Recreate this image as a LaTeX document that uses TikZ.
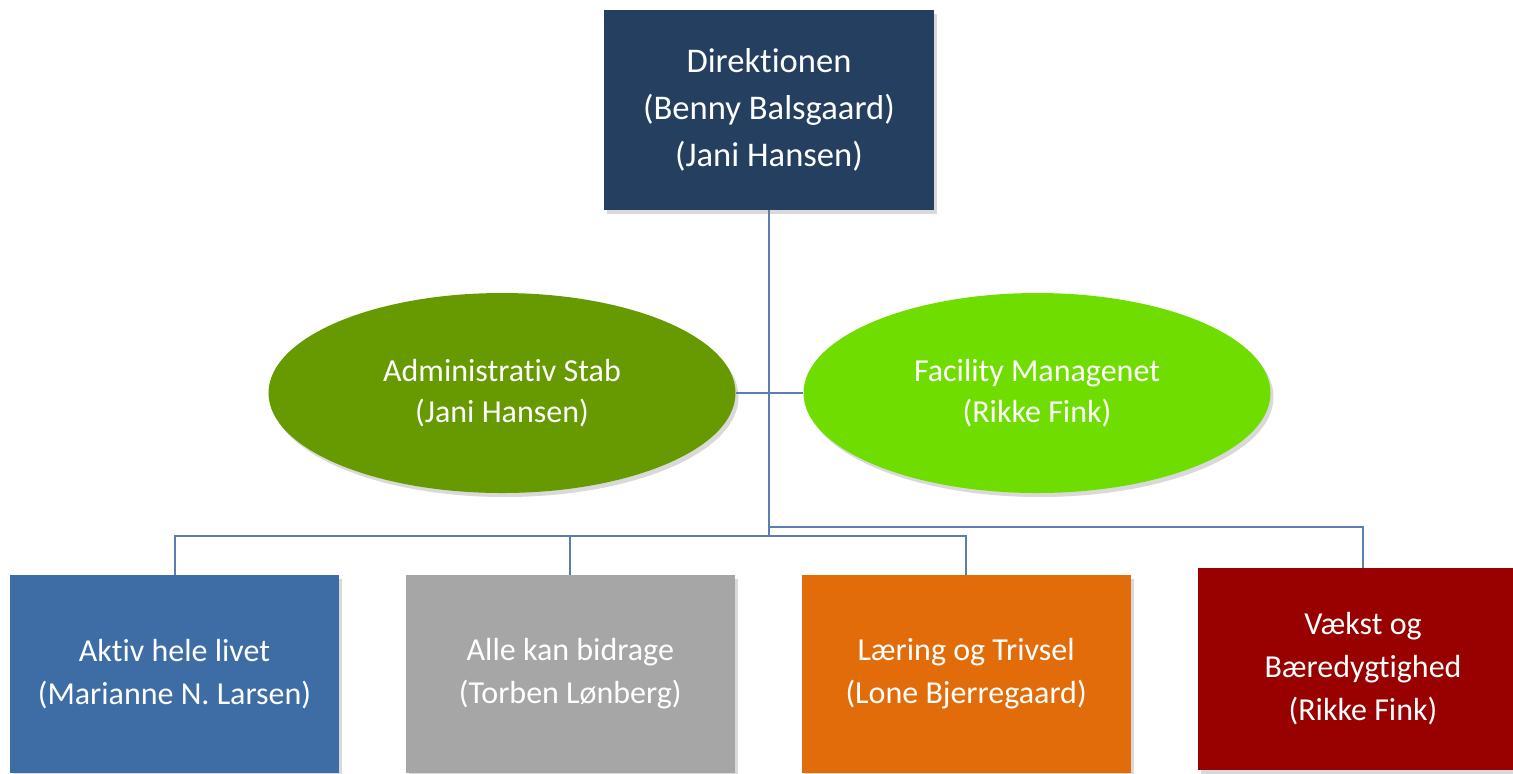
\documentclass[tikz,border=0pt]{standalone}
\usepackage{fontspec}
\setmainfont{Carlito}[Ligatures=NoCommon]
\usetikzlibrary{positioning,shapes.geometric,shadows}

\definecolor{dirnavy}{HTML}{243F60}
\definecolor{stabgreen}{HTML}{679900}
\definecolor{facgreen}{HTML}{70DD00}
\definecolor{aktivblue}{HTML}{3E6CA4}
\definecolor{allegray}{HTML}{A6A6A6}
\definecolor{laerorange}{HTML}{E36C0A}
\definecolor{vaekstred}{HTML}{990000}
\definecolor{linkblue}{HTML}{5A7EB2}

\begin{document}
\begin{tikzpicture}[x=0.5pt, y=-0.5pt, node distance=33pt,
    box/.style = {rectangle, text=white, align=center, inner sep=0pt,
      minimum width=164.5pt, minimum height=99pt,
      font=\fontsize{16}{21.5}\selectfont,
      drop shadow={shadow xshift=1.5pt, shadow yshift=-2pt, opacity=0.3}},
    oval/.style = {ellipse, text=white, align=center, inner sep=0pt,
      minimum width=233.5pt, minimum height=100pt,
      font=\fontsize{16}{20.5}\selectfont,
      drop shadow={shadow xshift=1.5pt, shadow yshift=-2pt, opacity=0.3}},
    link/.style = {draw=linkblue, line width=1pt}]
    \useasboundingbox (0,0) rectangle (1513,773);

    \node[box, fill=dirnavy, minimum width=165pt, minimum height=100pt,
      font=\fontsize{17.3}{23.5}\selectfont] (dir) at (769,110)
      {Direktionen\\(Benny Balsgaard)\\(Jani Hansen)};

    \node[oval, fill=stabgreen] (stab) at (502,393) {Administrativ Stab\\(Jani Hansen)};
    \node[oval, fill=facgreen] (facility) at (1037,393) {Facility Managenet\\(Rikke Fink)};

    \node[box, fill=aktivblue] (aktiv) at (174.5,674) {Aktiv hele livet\\(Marianne N. Larsen)};
    \node[box, fill=allegray] (alle) [right=of aktiv] {Alle kan bidrage\\(Torben Lønberg)};
    \node[box, fill=laerorange] (laering) [right=of alle] {Læring og Trivsel\\(Lone Bjerregaard)};
    \node[box, fill=vaekstred, minimum width=165pt, minimum height=101pt] (vaekst) at (1363,669)
      {Vækst og\\Bæredygtighed\\(Rikke Fink)};

    \coordinate (upper) at (769,527);
    \coordinate (lower) at (769,536);

    \draw[link] (stab) -- (facility);
    \draw[link] (dir) -- (lower);
    \draw[link] (upper) -| (vaekst);
    \draw[link] (lower) -| (aktiv);
    \draw[link] (lower) -| (alle);
    \draw[link] (lower) -| (laering);
\end{tikzpicture}
\end{document}
